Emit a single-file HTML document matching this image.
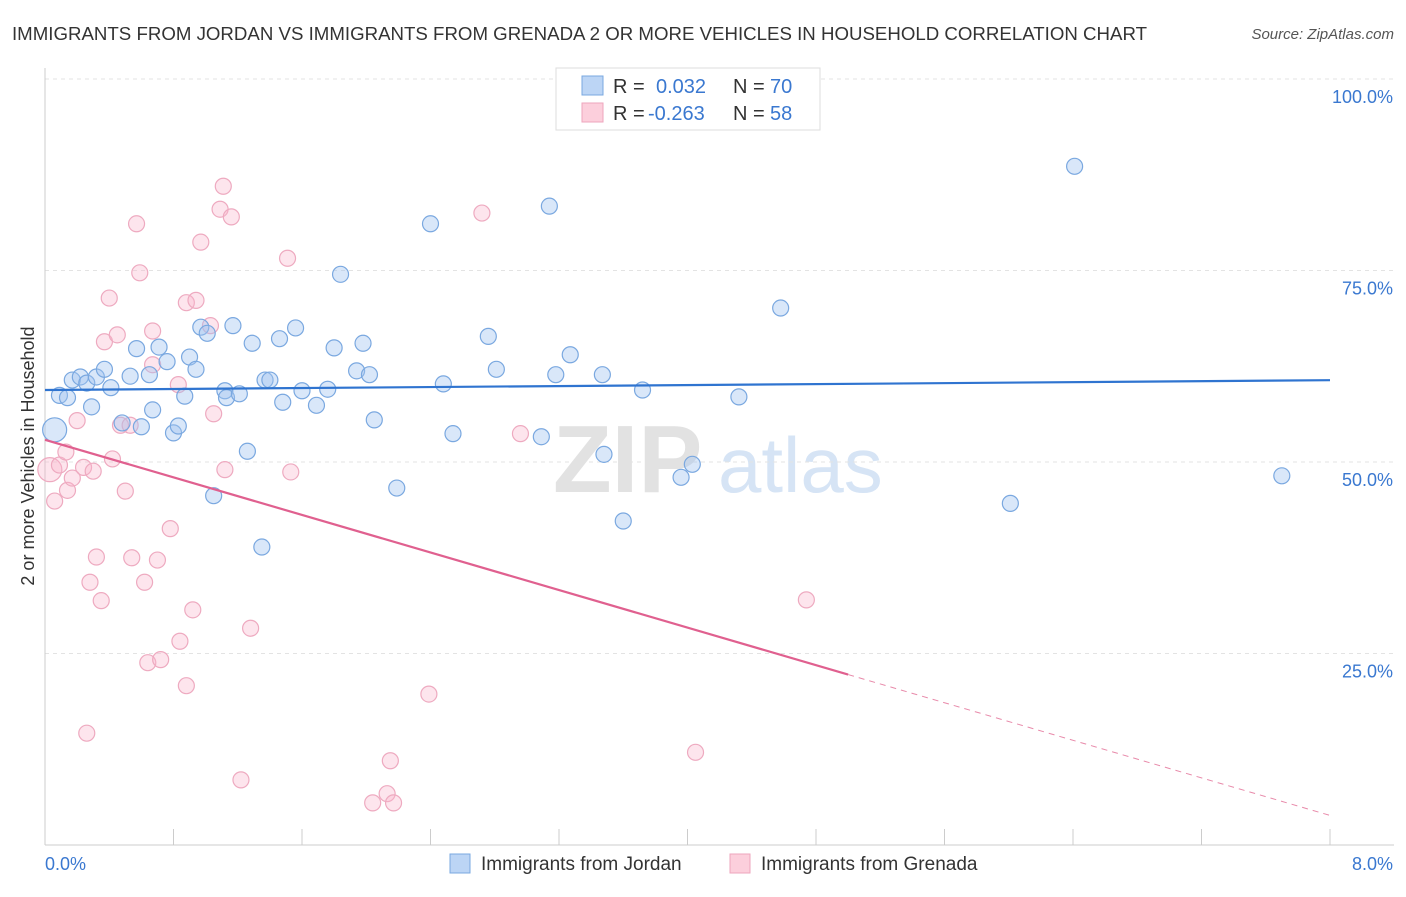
<!DOCTYPE html>
<html><head><meta charset="utf-8"><style>
body{margin:0;background:#fff;font-family:"Liberation Sans",sans-serif;}
svg text{font-family:"Liberation Sans",sans-serif;}
</style></head><body>
<svg id="c" width="1406" height="892" xmlns="http://www.w3.org/2000/svg">
<text x="12" y="40" font-size="18.5" fill="#333" textLength="1135" lengthAdjust="spacingAndGlyphs">IMMIGRANTS FROM JORDAN VS IMMIGRANTS FROM GRENADA 2 OR MORE VEHICLES IN HOUSEHOLD CORRELATION CHART</text>
<text x="1394" y="39" font-size="15" fill="#555" font-style="italic" text-anchor="end">Source: ZipAtlas.com</text>
<g><text x="553" y="492" font-size="96" fill="#e2e2e2" font-family="Liberation Serif" font-weight="bold">ZIP</text><text x="718" y="492" font-size="78" fill="#d6e4f5">atlas</text></g>
<g id="grid"></g><g id="axes"></g><g id="pts"></g><g id="trend"></g>
<text transform="translate(34,456) rotate(-90)" font-size="18" fill="#333" text-anchor="middle">2 or more Vehicles in Household</text>
<g>
<rect x="556" y="68" width="264" height="62" fill="#fff" stroke="#ddd"/>
<rect x="582" y="76" width="21" height="19" fill="#bcd5f5" stroke="#7aa8e0"/>
<rect x="582" y="103" width="21" height="19" fill="#fccfdc" stroke="#eea5bd"/>
<text x="613" y="93" font-size="20" fill="#333">R =</text><text x="656" y="93" font-size="20" fill="#3a78d0">0.032</text>
<text x="733" y="93" font-size="20" fill="#333">N =</text><text x="770" y="93" font-size="20" fill="#3a78d0">70</text>
<text x="613" y="120" font-size="20" fill="#333">R =</text><text x="648" y="120" font-size="20" fill="#3a78d0">-0.263</text>
<text x="733" y="120" font-size="20" fill="#333">N =</text><text x="770" y="120" font-size="20" fill="#3a78d0">58</text>
</g>
<g>
<rect x="450" y="854" width="20" height="19" fill="#bcd5f5" stroke="#7aa8e0"/>
<text x="481" y="870" font-size="19" fill="#333">Immigrants from Jordan</text>
<rect x="730" y="854" width="20" height="19" fill="#fccfdc" stroke="#eea5bd"/>
<text x="761" y="870" font-size="19" fill="#333">Immigrants from Grenada</text>
</g>
</svg>
<script>
const xTicks=[0,0.8,1.6,2.4,3.2,4,4.8,5.6,6.4,7.2,8];
const yTicks=[25,50,75,100];
const yTickLabels=["25.0%","50.0%","75.0%","100.0%"];
const xLabels=["0.0%","8.0%"];
const jordanX=[0.06,0.09,0.14,0.17,0.22,0.26,0.29,0.32,0.37,0.41,0.48,0.53,0.57,0.60,0.65,0.67,0.71,0.76,0.80,0.83,0.87,0.90,0.94,0.97,1.01,1.05,1.12,1.13,1.17,1.21,1.26,1.29,1.35,1.37,1.40,1.46,1.48,1.56,1.60,1.69,1.76,1.80,1.84,1.94,1.98,2.02,2.05,2.19,2.40,2.48,2.54,2.76,2.81,3.09,3.14,3.18,3.27,3.47,3.48,3.60,3.72,3.96,4.03,4.32,4.58,6.01,6.41,7.70];
const jordanY=[54.2,58.7,58.4,60.7,61.1,60.3,57.2,61.1,62.1,59.7,55.1,61.2,64.8,54.6,61.4,56.8,65.0,63.1,53.8,54.7,58.6,63.7,62.1,67.6,66.8,45.6,59.3,58.4,67.8,58.9,51.4,65.5,38.9,60.7,60.7,66.1,57.8,67.5,59.3,57.4,59.5,64.9,74.5,61.9,65.5,61.4,55.5,46.6,81.1,60.2,53.7,66.4,62.1,53.3,83.4,61.4,64.0,61.4,51.0,42.3,59.4,48.0,49.7,58.5,70.1,44.6,88.6,48.2];
const grenadaX=[0.03,0.06,0.09,0.13,0.14,0.17,0.20,0.24,0.26,0.30,0.32,0.35,0.28,0.37,0.40,0.42,0.45,0.47,0.50,0.53,0.54,0.57,0.59,0.62,0.64,0.67,0.67,0.70,0.72,0.78,0.83,0.84,0.88,0.88,0.92,0.94,0.97,1.03,1.05,1.09,1.11,1.12,1.16,1.22,1.28,1.51,1.53,2.04,2.13,2.15,2.17,2.39,2.72,2.96,4.05,4.74];
const grenadaY=[49.0,44.9,49.6,51.3,46.3,47.9,55.4,49.3,14.6,48.8,37.6,31.9,34.3,65.7,71.4,50.4,66.6,54.8,46.2,54.8,37.5,81.1,74.7,34.3,23.8,67.1,62.7,37.2,24.2,41.3,60.1,26.6,20.8,70.8,30.7,71.1,78.7,67.8,56.3,83.0,86.0,49.0,82.0,8.5,28.3,76.6,48.7,5.5,6.7,11.0,5.5,19.7,82.5,53.7,12.1,32.0];
const jordanTrend=[59.4,0.16];
const grenadaTrend=[52.9,-6.13];
const X=v=>45+v/8*1285, Y=v=>845-v*7.66;
const NS="http://www.w3.org/2000/svg";
function mk(p,t,a){const e=document.createElementNS(NS,t);for(const k in a)e.setAttribute(k,a[k]);document.getElementById(p).appendChild(e);return e;}
yTicks.forEach((t,i)=>{
 const l=mk('grid','line',{x1:45,x2:1394,y1:Y(t),y2:Y(t),stroke:'#e3e3e3','stroke-dasharray':'4,4'});
 
 
 const tx=mk('grid','text',{x:1393,y:Y(t)+24,'font-size':18,fill:'#3a78d0','text-anchor':'end'});tx.textContent=yTickLabels[i];
 
 
});
const ax=mk('axes','line',{x1:45,x2:1394,y1:845,y2:845,stroke:'#ccc'});


const ay=mk('axes','line',{x1:45,x2:45,y1:68,y2:845,stroke:'#ccc'});


xTicks.forEach(t=>{const l=mk('axes','line',{x1:X(t),x2:X(t),y1:829,y2:845,stroke:'#ccc'});
 
 });
[[0,'start',45],[8,'end',1393]].forEach((d,i)=>{const t=mk('axes','text',{x:d[2],y:870,'font-size':18,fill:'#3a78d0','text-anchor':d[1]});t.textContent=xLabels[i];
 
 });
function pts(xs,ys,fill,stroke,name){xs.forEach((x,i)=>{const c=mk('pts','circle',{cx:X(x),cy:Y(ys[i]),r:i==0?12:8,fill:fill,stroke:stroke,'stroke-width':1.2});
 
 });}
pts(grenadaX,grenadaY,'rgba(248,180,202,0.35)','#eeaac0','grenada-point');
pts(jordanX,jordanY,'rgba(160,195,240,0.4)','#7aa8e0','jordan-point');
const tb=mk('trend','line',{x1:X(0),y1:Y(jordanTrend[0]),x2:X(8),y2:Y(jordanTrend[0]+8*jordanTrend[1]),stroke:'#2f74d0','stroke-width':2.2});


const tp=mk('trend','line',{x1:X(0),y1:Y(grenadaTrend[0]),x2:X(5),y2:Y(grenadaTrend[0]+5*grenadaTrend[1]),stroke:'#e0608f','stroke-width':2.2});


const td=mk('trend','line',{x1:X(5),y1:Y(grenadaTrend[0]+5*grenadaTrend[1]),x2:X(8),y2:Y(grenadaTrend[0]+8*grenadaTrend[1]),stroke:'#e88aaa','stroke-width':1,'stroke-dasharray':'6,5'});


</script>
</body></html>
